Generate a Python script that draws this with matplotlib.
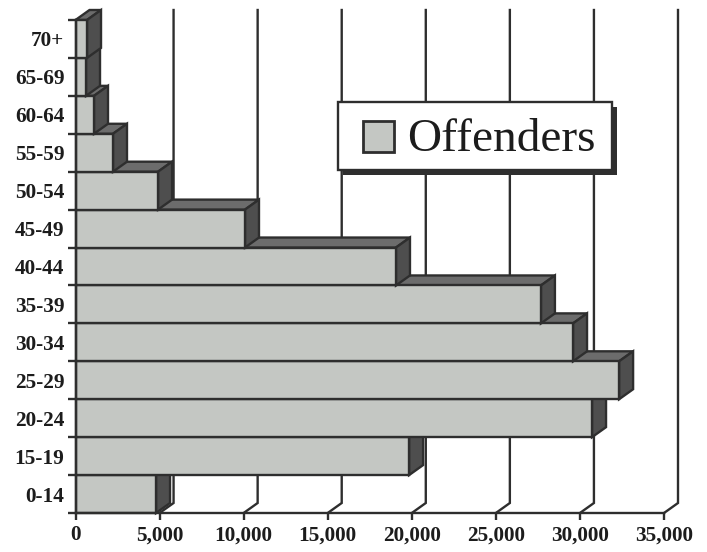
import matplotlib
matplotlib.use('Agg')
import matplotlib.pyplot as plt
from matplotlib.patches import Polygon, Rectangle

# Age groups, bottom to top
ages = ['0-14', '15-19', '20-24', '25-29', '30-34', '35-39', '40-44',
        '45-49', '50-54', '55-59', '60-64', '65-69', '70+']
offenders = [4790, 19840, 30720, 32330, 29590, 27680, 19060,
             10080, 4910, 2230, 1100, 625, 685]
x_ticks = [0, 5000, 10000, 15000, 20000, 25000, 30000, 35000]
series_name = 'Offenders'

W, H = 707, 552
DARK = '#2e2e2e'
FRONT = '#c4c7c3'
SIDE = '#4e4e4e'
TOP = '#6c6c6c'
TEXT = '#1c1c1c'
plt.rcParams['font.family'] = ['Liberation Serif', 'DejaVu Serif']

fig = plt.figure(figsize=(W / 100, H / 100), dpi=100)
# plot area in pixels: x 75.5-664, y 20-513
ax = fig.add_axes([75.5 / W, 1 - 513 / H, (664 - 75.5) / W, (513 - 20) / H])
ax.set_xlim(0, 35000)
ax.set_ylim(0, len(ages))

# fake 3D depth, in data units (14 px across, 10 px up)
dx = 14 * 35000 / (664 - 75.5)
dy = 10 * len(ages) / (513 - 20)
lw = 1.7

# back wall gridlines with their short slant on the floor
for t in x_ticks[1:]:
    ax.plot([t, t + dx, t + dx], [0, dy, len(ages) + dy], color=DARK, lw=lw,
            clip_on=False, zorder=1, solid_joinstyle='miter')

# bottom bars first so the ones above cover their top faces
for i, v in enumerate(offenders):
    z = 2 + i
    top = [(0, i + 1), (dx, i + 1 + dy), (v + dx, i + 1 + dy), (v, i + 1)]
    side = [(v, i), (v + dx, i + dy), (v + dx, i + 1 + dy), (v, i + 1)]
    front = [(0, i), (v, i), (v, i + 1), (0, i + 1)]
    for pts, col in [(top, TOP), (side, SIDE), (front, FRONT)]:
        ax.add_patch(Polygon(pts, closed=True, facecolor=col, edgecolor=DARK,
                             lw=lw, clip_on=False, zorder=z))

for s in ['top', 'right']:
    ax.spines[s].set_visible(False)
for s in ['left', 'bottom']:
    ax.spines[s].set_color(DARK)
    ax.spines[s].set_linewidth(lw)
    ax.spines[s].set_zorder(30)

ax.set_xticks(x_ticks)
ax.set_xticklabels([f'{t:,}' for t in x_ticks], fontsize=15.3, fontweight='bold', color=TEXT)
ax.tick_params(axis='x', length=5, width=lw, color=DARK, pad=4)

# ticks on the category edges, labels in the middle
ax.set_yticks(range(len(ages) + 1))
ax.set_yticklabels([])
ax.set_yticks([i + 0.5 for i in range(len(ages))], minor=True)
ax.set_yticklabels(ages, minor=True, fontsize=15.3, fontweight='bold', color=TEXT)
ax.tick_params(axis='y', which='major', length=5.8, width=lw, color=DARK)
ax.tick_params(axis='y', which='minor', length=0, pad=8)


def box(x0, y0, x1, y1, **kw):
    # rectangle given in image pixels, y counted from the top
    fig.add_artist(Rectangle((x0 / W, 1 - y1 / H), (x1 - x0) / W, (y1 - y0) / H,
                             transform=fig.transFigure, zorder=40, **kw))


# legend box with its drop shadow
box(343, 107, 617, 175, facecolor=DARK, edgecolor='none')
box(338, 102, 612, 170, facecolor='white', edgecolor=DARK, lw=lw)
box(363, 121, 394, 152, facecolor=FRONT, edgecolor=DARK, lw=2)
fig.text(407 / W, 1 - 140 / H, series_name, fontsize=34, color=TEXT, va='center', ha='left', zorder=41)

fig.savefig('out.png', dpi=100)
